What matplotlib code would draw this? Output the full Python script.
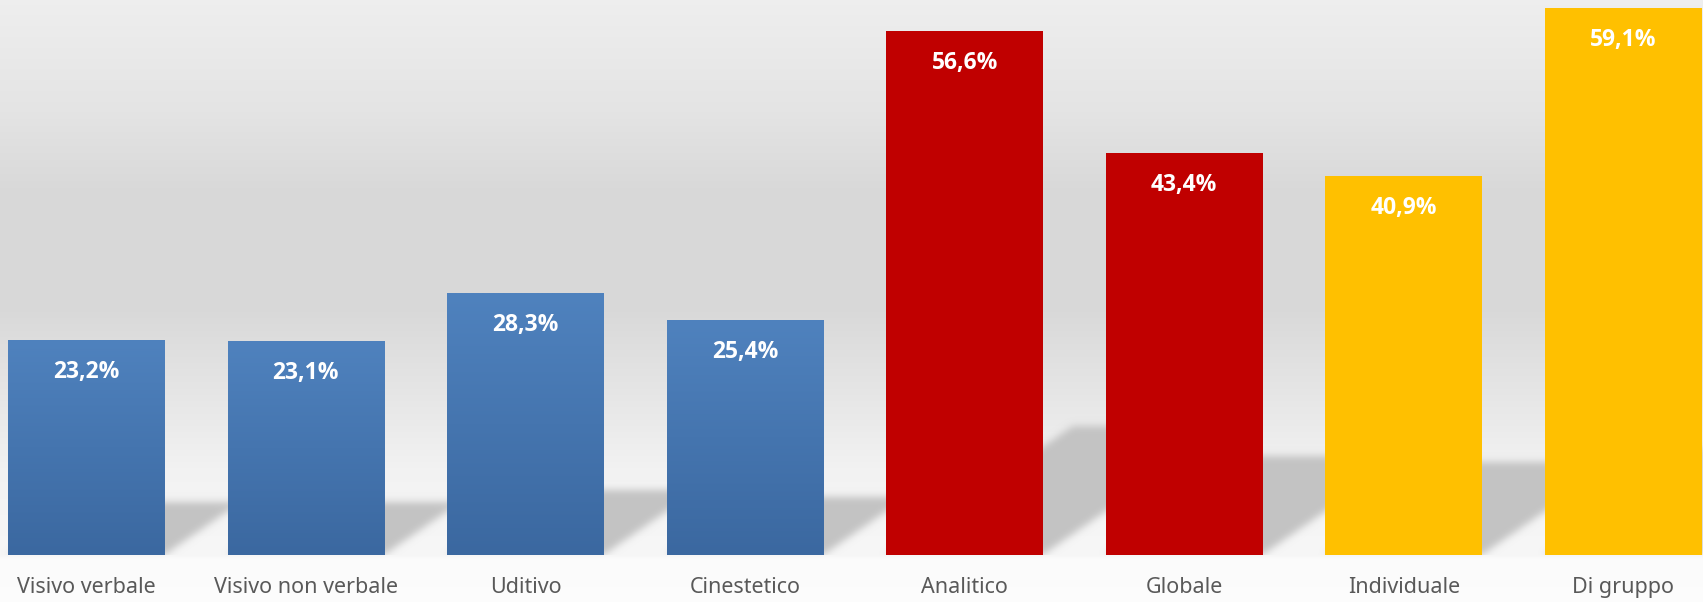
import numpy as np
import matplotlib
matplotlib.use("Agg")
import matplotlib.pyplot as plt
from matplotlib.colors import to_rgb

# ---- data ----
categories = ["Visivo verbale", "Visivo non verbale", "Uditivo", "Cinestetico",
              "Analitico", "Globale", "Individuale", "Di gruppo"]
values = [23.2, 23.1, 28.3, 25.4, 56.6, 43.4, 40.9, 59.1]
value_labels = ["23,2%", "23,1%", "28,3%", "25,4%", "56,6%", "43,4%", "40,9%", "59,1%"]
groups = ["blue", "blue", "blue", "blue", "red", "red", "yellow", "yellow"]

# ---- styling ----
BAR_COLORS = {"blue": "#4A7BB7", "red": "#C00000", "yellow": "#FFC000"}
BLUE_TOP, BLUE_BOTTOM = "#4F82BE", "#3B68A0"
LABEL_GREY = "#595959"
CAT_FONT = "Noto Sans"
VAL_FONT = "Open Sans"

W, H, DPI = 1703, 602, 100
ZERO_PX = 554.6          # distance of the value-axis zero from the top edge
PX_PER_UNIT = 9.248      # vertical pixels per percentage point
STEP_PX = 219.57         # horizontal distance between categories
FIRST_CENTER_PX = 86.35  # centre of the first bar
BAR_WIDTH = 0.7137

fig = plt.figure(figsize=(W / DPI, H / DPI), dpi=DPI)

# background: soft vertical grey gradient
bg_ax = fig.add_axes([0, 0, 1, 1], zorder=0)
bg_ax.set_axis_off()
stops_y = [0, 110, 190, 310, 400, 470, 520, 556, 559, 602]
stops_v = [0.935, 0.895, 0.85, 0.85, 0.905, 0.95, 0.962, 0.968, 0.985, 0.99]
rows = np.interp(np.arange(H) + 0.5, stops_y, stops_v)
bg = np.dstack([rows[:, None]] * 3)
bg_ax.imshow(bg, extent=(0, W, H, 0), aspect="auto", interpolation="nearest")
bg_ax.set_xlim(0, W)
bg_ax.set_ylim(H, 0)

# main chart axes
ax = fig.add_axes([0, (H - ZERO_PX) / H, 1, ZERO_PX / H], zorder=1)
ax.patch.set_alpha(0)
ax.set_axis_off()

x = np.arange(len(categories))
colors = [BAR_COLORS[g] for g in groups]
bars = ax.bar(x, values, width=BAR_WIDTH, color=colors, zorder=2, linewidth=0)

# vertical gradient on the blue bars
top_rgb = np.array(to_rgb(BLUE_TOP))
bot_rgb = np.array(to_rgb(BLUE_BOTTOM))
t = np.linspace(0, 1, 256)[:, None]
grad = (top_rgb[None, :] * (1 - t) + bot_rgb[None, :] * t)[:, None, :]
for rect, g in zip(bars, groups):
    if g != "blue":
        continue
    bx, bw, bh = rect.get_x(), rect.get_width(), rect.get_height()
    im = ax.imshow(grad, extent=(bx, bx + bw, 0, bh), aspect="auto",
                   interpolation="bilinear", zorder=2.1)
    im.set_clip_path(rect)

ax.set_xlim(-FIRST_CENTER_PX / STEP_PX, (W - FIRST_CENTER_PX) / STEP_PX)
ax.set_ylim(0, ZERO_PX / PX_PER_UNIT)

# perspective shadows cast behind each bar (drawn in pixel space)
SHADOW_SCALE = 0.245
SHADOW_SKEW = 1.45
BLUR_SIGMA = 3.8
yy, xx = np.mgrid[0:H, 0:W] + 0.5
ydisp = H - yy
mask = np.zeros((H, W))
for rect in bars:
    (xl, yb), (xr, yt) = ax.transData.transform(
        [(rect.get_x(), 0), (rect.get_x() + rect.get_width(), rect.get_height())])
    hs = SHADOW_SCALE * (yt - yb)
    d = ydisp - yb
    inside = (d >= 0) & (d <= hs) & (xx >= xl + SHADOW_SKEW * d) & (xx <= xr + SHADOW_SKEW * d)
    mask = np.maximum(mask, inside.astype(float))

r = int(3 * BLUR_SIGMA)
kern = np.exp(-0.5 * (np.arange(-r, r + 1) / BLUR_SIGMA) ** 2)
kern /= kern.sum()
mask = np.apply_along_axis(lambda v: np.convolve(v, kern, mode="same"), 1, mask)
mask = np.apply_along_axis(lambda v: np.convolve(v, kern, mode="same"), 0, mask)
base_row = int(round(ZERO_PX))
mask[base_row:, :] = 0
shadow = np.zeros((H, W, 4))
shadow[..., :3] = 0.765
shadow[..., 3] = np.clip(mask, 0, 1)
bg_ax.imshow(shadow, extent=(0, W, H, 0), aspect="auto", interpolation="nearest")
bg_ax.set_xlim(0, W)
bg_ax.set_ylim(H, 0)

# value labels inside the bars
for xi, v, lab in zip(x, values, value_labels):
    ax.annotate(lab, xy=(xi, v), xytext=(0, -38), textcoords="offset pixels",
                ha="center", va="baseline", color="white", fontsize=16.5,
                fontweight="bold", family=VAL_FONT, zorder=3, annotation_clip=False)

# category labels under the bars
for xi, cat in zip(x, categories):
    ax.annotate(cat, xy=(xi, 0), xytext=(0, -38.4), textcoords="offset pixels",
                ha="center", va="baseline", color=LABEL_GREY, fontsize=15.5,
                family=CAT_FONT, annotation_clip=False)

fig.savefig("out.png", dpi=DPI)
